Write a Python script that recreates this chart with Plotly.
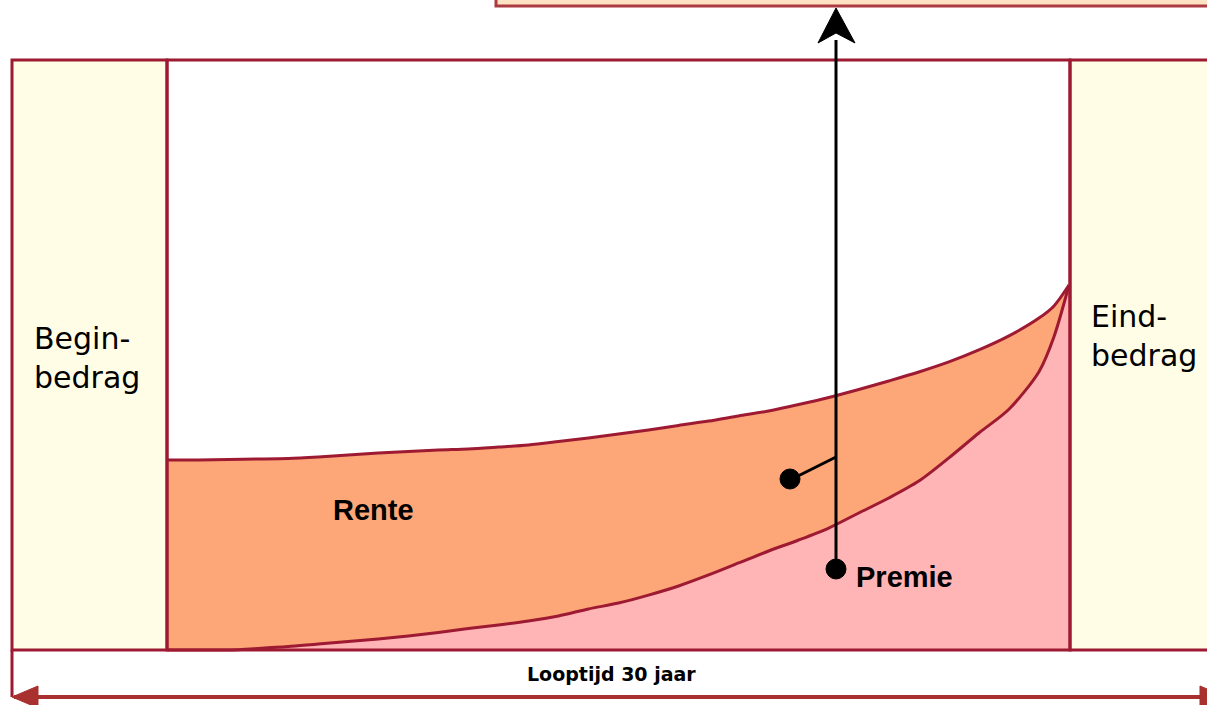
import plotly.graph_objects as go

# looptijd in jaren en opgebouwd kapitaal (beginbedrag = 100)
jaren = [0, 1, 2, 3, 4, 5, 6, 7, 8, 9, 10, 11, 12, 13, 14, 15, 16, 17, 18, 19,
         20, 21, 22, 23, 24, 25, 26, 27, 28, 29, 29.5, 30]
totaal = [100, 100, 100.3, 100.5, 100.8, 101.6, 102.6, 103.7, 104.5, 105.3,
          105.8, 106.8, 107.9, 109.7, 111.6, 113.7, 115.8, 118.2, 120.5, 123.2,
          125.8, 129.2, 132.9, 137.1, 141.6, 146.3, 151.6, 157.9, 165.3, 174.7,
          181.1, 192.1]
premie = [0, 0, 0, 0.8, 1.8, 3.2, 4.5, 5.8, 7.4, 9.2,
          11.3, 13.2, 15.3, 17.9, 21.6, 24.7, 28.9, 33.7, 39.5, 45.8,
          52.1, 57.9, 64.2, 72.1, 80.0, 88.9, 101.1, 114.2, 126.7, 146.5,
          164.9, 192.1]

W, H = 1207, 705
RED = "#9e1a33"
ARROW_RED = "#a8302f"


def px(x):
    return x / W


def py(y):
    return 1 - y / H


def rect(x0, y0, x1, y1, fill, color=RED, width=3):
    return dict(type="rect", xref="paper", yref="paper",
                x0=px(x0), x1=px(x1), y0=py(y1), y1=py(y0),
                fillcolor=fill, line=dict(color=color, width=width))


def line(x0, y0, x1, y1, color, width):
    return dict(type="line", xref="paper", yref="paper",
                x0=px(x0), x1=px(x1), y0=py(y0), y1=py(y1),
                line=dict(color=color, width=width))


def poly(points, color):
    d = "M " + " L ".join(f"{px(x):.5f} {py(y):.5f}" for x, y in points) + " Z"
    return dict(type="path", xref="paper", yref="paper", path=d,
                fillcolor=color, line=dict(color=color, width=1))


def dot(x, y, r):
    return dict(type="circle", xref="paper", yref="paper",
                x0=px(x - r), x1=px(x + r), y0=py(y + r), y1=py(y - r),
                fillcolor="black", line=dict(color="black", width=1))


fig = go.Figure()

# premie-deel (onder) en rente-deel (tussen de curves)
fig.add_trace(go.Scatter(x=jaren, y=premie, mode="lines", fill="tozeroy",
                         fillcolor="#ffb4b6",
                         line=dict(color=RED, width=3, shape="spline", smoothing=0.8)))
fig.add_trace(go.Scatter(x=jaren, y=totaal, mode="lines", fill="tonexty",
                         fillcolor="#fda677",
                         line=dict(color=RED, width=3, shape="spline", smoothing=0.8)))

shapes = [
    rect(496, -20, 1230, 6, "#fde2c4", color="#ad3a40"),
    rect(12, 60, 167, 650, "#fffde6"),
    rect(1070, 60, 1230, 650, "#fffde6"),
    rect(167, 60, 1070, 650, "rgba(0,0,0,0)"),
    # looptijd-pijl
    line(12, 650, 12, 697, RED, 3),
    line(14, 697, 1207, 697, ARROW_RED, 4),
    poly([(12, 697), (38, 686), (38, 708)], ARROW_RED),
    poly([(1226, 697), (1200, 686), (1200, 708)], ARROW_RED),
    # verwijzingen
    line(836, 40, 836, 569, "black", 3),
    line(798, 476, 836, 457, "black", 3),
    poly([(836, 8), (855, 43), (836, 33), (818, 43)], "black"),
    dot(790, 479, 10),
    dot(836, 569, 10),
]

annotations = [
    dict(x=px(32), y=py(358), text="Begin-<br>bedrag", xanchor="left", align="left",
         font=dict(family="DejaVu Sans", size=30, color="black")),
    dict(x=px(1089), y=py(336), text="Eind-<br>bedrag", xanchor="left", align="left",
         font=dict(family="DejaVu Sans", size=30, color="black")),
    dict(x=px(331), y=py(510), text="<b>Rente</b>",
         font=dict(family="Liberation Sans", size=29, color="black")),
    dict(x=px(854), y=py(577), text="<b>Premie</b>", xanchor="left",
         font=dict(family="Liberation Sans", size=29, color="black")),
    dict(x=px(611), y=py(674), text="<b>Looptijd 30 jaar</b>",
         font=dict(family="DejaVu Sans", size=19, color="black")),
]
for a in annotations:
    a.update(xref="paper", yref="paper", showarrow=False, yanchor="middle")

# jaar 0 op pixel 168, jaar 30 op pixel 1069; 1 eenheid = 1.9 pixel
x_per_px = 30 / (1069 - 168)
fig.update_layout(
    width=W, height=H,
    margin=dict(l=0, r=0, t=0, b=0),
    paper_bgcolor="white", plot_bgcolor="white",
    showlegend=False,
    xaxis=dict(range=[-168 * x_per_px, (W - 168) * x_per_px], visible=False, fixedrange=True),
    yaxis=dict(range=[-(H - 650) / 1.9, 650 / 1.9], visible=False, fixedrange=True),
    shapes=shapes,
    annotations=annotations,
)

# de pagina zelf zonder rand, zodat de figuur precies in het venster past
fig.write_html("out.html", config={"displayModeBar": False},
               post_script="document.body.style.margin='0';document.body.style.overflow='hidden';")
